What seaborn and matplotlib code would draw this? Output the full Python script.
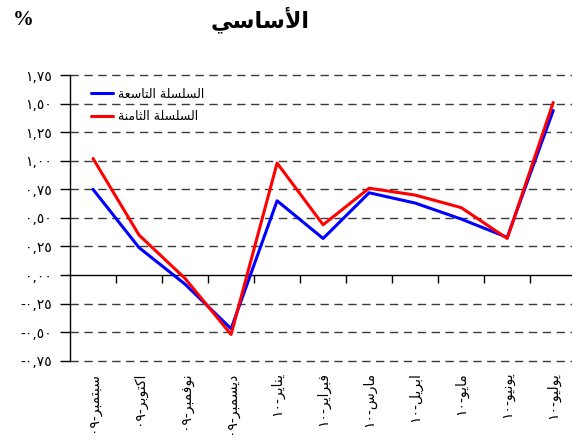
import matplotlib
matplotlib.use("Agg")
import matplotlib.pyplot as plt
import matplotlib.ticker as mticker
import seaborn as sns
import pandas as pd

sns.set_theme(style="white")
plt.rcParams['font.family'] = ['DejaVu Sans']
plt.rcParams['text.color'] = 'black'
plt.rcParams['xtick.color'] = 'black'
plt.rcParams['ytick.color'] = 'black'

# data
months = ['سبتمبر', 'اكتوبر', 'نوفمبر', 'ديسمبر', 'يناير', 'فبراير',
          'مارس', 'ابريل', 'مايو', 'يونيو', 'يوليو']
years = ['٠٩', '٠٩', '٠٩', '٠٩', '١٠', '١٠', '١٠', '١٠', '١٠', '١٠', '١٠']
ninth = [0.75, 0.24, -0.08, -0.47, 0.65, 0.32, 0.72, 0.63, 0.49, 0.33, 1.44]
eighth = [1.02, 0.35, -0.03, -0.52, 0.98, 0.44, 0.76, 0.70, 0.59, 0.32, 1.51]
name_ninth = 'السلسلة التاسعة'
name_eighth = 'السلسلة الثامنة'
title = 'الأساسي'
yticks = [-0.75, -0.5, -0.25, 0, 0.25, 0.5, 0.75, 1.0, 1.25, 1.5, 1.75]

# minimal arabic shaping (matplotlib has no shaping / bidi)
FORMS = {  # isolated, final, initial, medial
    'ا': ('\uFE8D', '\uFE8E', None, None),
    'أ': ('\uFE83', '\uFE84', None, None),
    'ب': ('\uFE8F', '\uFE90', '\uFE91', '\uFE92'),
    'ة': ('\uFE93', '\uFE94', None, None),
    'ت': ('\uFE95', '\uFE96', '\uFE97', '\uFE98'),
    'ث': ('\uFE99', '\uFE9A', '\uFE9B', '\uFE9C'),
    'د': ('\uFEA9', '\uFEAA', None, None),
    'ر': ('\uFEAD', '\uFEAE', None, None),
    'س': ('\uFEB1', '\uFEB2', '\uFEB3', '\uFEB4'),
    'ع': ('\uFEC9', '\uFECA', '\uFECB', '\uFECC'),
    'ف': ('\uFED1', '\uFED2', '\uFED3', '\uFED4'),
    'ك': ('\uFED9', '\uFEDA', '\uFEDB', '\uFEDC'),
    'ل': ('\uFEDD', '\uFEDE', '\uFEDF', '\uFEE0'),
    'م': ('\uFEE1', '\uFEE2', '\uFEE3', '\uFEE4'),
    'ن': ('\uFEE5', '\uFEE6', '\uFEE7', '\uFEE8'),
    'و': ('\uFEED', '\uFEEE', None, None),
    'ي': ('\uFEF1', '\uFEF2', '\uFEF3', '\uFEF4'),
    'لا': ('\uFEFB', '\uFEFC', None, None),
    'لأ': ('\uFEF7', '\uFEF8', None, None),
}


def shape(text):
    toks = []
    i = 0
    while i < len(text):
        if text[i] == 'ل' and i + 1 < len(text) and text[i + 1] in 'اأ':
            toks.append(text[i:i + 2])
            i += 2
        else:
            toks.append(text[i])
            i += 1
    out = []
    for k, t in enumerate(toks):
        if t not in FORMS:
            out.append(t)
            continue
        prev = toks[k - 1] if k > 0 else None
        nxt = toks[k + 1] if k + 1 < len(toks) else None
        jp = prev in FORMS and FORMS[prev][2] is not None
        jn = FORMS[t][2] is not None and nxt in FORMS
        f = FORMS[t]
        if jp and jn:
            out.append(f[3])
        elif jp:
            out.append(f[1])
        elif jn:
            out.append(f[2])
        else:
            out.append(f[0])
    return ''.join(out)


def rtl(text):
    return shape(text)[::-1]


AR_DIGITS = str.maketrans('0123456789', '٠١٢٣٤٥٦٧٨٩')


def ar_num(v, pos=None):
    return ('%.2f' % v).replace('.', ',').translate(AR_DIGITS)


labels = [y + '-' + rtl(m) for m, y in zip(months, years)]

df = pd.DataFrame({
    'x': list(range(len(months))) * 2,
    'value': ninth + eighth,
    'series': [rtl(name_ninth)] * len(ninth) + [rtl(name_eighth)] * len(eighth),
})

fig = plt.figure(figsize=(5.72, 4.47), dpi=100)
ax = fig.add_axes([0.1224, 0.193, 0.885, 0.639])

sns.lineplot(data=df, x='x', y='value', hue='series',
             palette=['#0000ff', '#ff0000'], linewidth=2.2, ax=ax)

ymin, ymax = -0.75, 1.75
ax.set_xlim(-0.5, len(months) - 0.5)
ax.set_ylim(ymin, ymax)
ax.set_xlabel('')
ax.set_ylabel('')

ax.set_yticks(yticks)
ax.yaxis.set_major_formatter(mticker.FuncFormatter(ar_num))
ax.tick_params(axis='y', direction='out', length=7, width=1, color='black',
               labelcolor='black', labelsize=10, pad=6, left=True)
for v in yticks:
    if v != 0:
        ax.axhline(v, color='#3a3a3a', lw=1, ls=(0, (6, 4)), zorder=0,
                   clip_on=False)

# category labels at the bottom
ax.set_xticks(range(len(months)))
ax.set_xticklabels(labels, rotation=90, fontsize=10)
ax.tick_params(axis='x', length=0, pad=8, labelcolor='black')
ax.spines['bottom'].set_visible(False)
ax.spines['top'].set_visible(False)
ax.spines['right'].set_visible(False)
ax.spines['left'].set_color('black')
ax.spines['left'].set_linewidth(1)

# zero axis with boundary ticks
zero = ax.secondary_xaxis((0 - ymin) / (ymax - ymin))
zero.set_xticks([k + 0.5 for k in range(len(months) - 1)])
zero.set_xticklabels([])
zero.tick_params(direction='out', length=6, width=1, color='black')
zero.spines['bottom'].set_color('black')
zero.spines['bottom'].set_linewidth(1)

leg = ax.legend(loc='upper left', bbox_to_anchor=(0.02, 0.995), frameon=False,
                fontsize=9, handlelength=1.7, handletextpad=0.4,
                labelspacing=0.75)
for t in leg.get_texts():
    t.set_color('black')

fig.text(0.455, 0.955, rtl(title), ha='center', va='center',
         fontsize=16, fontweight='bold', color='black')
fig.text(0.04, 0.955, '%', ha='center', va='center', fontsize=15,
         fontweight='bold', family=['Liberation Serif'], color='black')

fig.savefig('out.png', dpi=100)
